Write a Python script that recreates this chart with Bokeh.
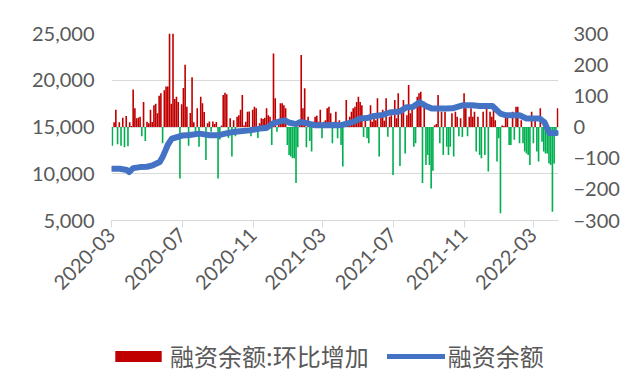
import numpy as np
import pandas as pd
from math import pi
from bokeh.plotting import figure
from bokeh.layouts import column
from bokeh.models import (ColumnDataSource, Range1d, LinearAxis, FixedTicker,
                          NumeralTickFormatter, Legend, LegendItem)
from bokeh.embed import file_html
from bokeh.resources import INLINE

# ---------------- data ----------------
bar_start = "2020-03-02"          # bars: one value per 3 calendar days
chg = [
    -60, 15, 55, -55, 15, -60, 30, -65, 35, -62, 15, 3, 120, 60, 28, 30, 33, -30, 80, -45,
    17, 12, 55, 16, 70, 75, 44, 100, 108, -52, 118, 130, 130, 310, 75, 310, 90, 97, 80, -165,
    73, 125, 200, 65, -60, 45, 160, 15, -30, 60, -63, 97, 76, 48, -106, 12, 18, -15, 18, 10,
    16, -165, -40, 5, 103, 110, 105, -35, 28, -95, 22, -30, 33, 38, 55, 103, 5, 17, 49, 50,
    -30, 55, 65, 60, -35, 12, 28, 26, 30, 60, 38, 33, -58, 236, 92, -15, 20, 76, 76, 70,
    60, -58, -90, -95, -100, -100, -180, -65, 17, 231, 60, 124, -65, 33, -45, -79, 17, 33, 36, 17,
    55, -36, 17, 22, 60, 65, 44, -52, 17, 49, -36, 22, -58, -127, 17, 87, 17, 33, 49, 60,
    65, 80, 97, 80, 70, -32, 33, -36, -52, 70, 17, 44, 22, 92, -95, 38, 55, 20, 92, -31,
    33, 38, -154, 87, 28, 108, -125, 55, 87, -85, 38, 135, 44, 65, -63, -52, 97, 108, 113, -180,
    81, -122, -90, -122, -197, -140, 6, 10, 103, -52, 49, -90, 49, -63, -90, -63, 44, -95, 49, 33,
    -30, 28, -32, 108, 60, -30, 33, 60, 33, 49, -79, 33, -90, -100, 49, -90, 60, -143, 49, 33,
    60, 22, -111, -36, -277, 5, 3, 33, 33, -58, -58, 49, -41, 65, 65, -52, 22, -52, -79, -85,
    -90, -122, 49, -52, 22, -79, -111, 60, -47, -79, -85, -85, -117, -122, -272, -117, -15, 60, 38,
]

line_dates = [
    "2020-03-02", "2020-03-15", "2020-03-27", "2020-03-31", "2020-04-07", "2020-04-19",
    "2020-05-01", "2020-05-11", "2020-05-23", "2020-05-28", "2020-06-02", "2020-06-06",
    "2020-06-13", "2020-06-23", "2020-07-02", "2020-07-14", "2020-07-31", "2020-08-18",
    "2020-09-01", "2020-09-13", "2020-09-27", "2020-10-09", "2020-10-26", "2020-11-12",
    "2020-11-24", "2020-12-05", "2020-12-17", "2020-12-26", "2021-01-03", "2021-01-14",
    "2021-01-21", "2021-02-02", "2021-02-16", "2021-03-05", "2021-03-22", "2021-03-31",
    "2021-04-12", "2021-04-23", "2021-05-05", "2021-05-17", "2021-05-27", "2021-06-13",
    "2021-06-25", "2021-07-12", "2021-07-24", "2021-08-04", "2021-08-16", "2021-08-28",
    "2021-09-07", "2021-10-01", "2021-10-12", "2021-10-29", "2021-11-15", "2021-11-28",
    "2021-12-20", "2022-01-03", "2022-01-13", "2022-02-05", "2022-02-17", "2022-03-12",
    "2022-03-20", "2022-03-26", "2022-03-29", "2022-04-10",
]
line_vals = [
    10540, 10540, 10400, 10180, 10600, 10710,
    10750, 10900, 11250, 11800, 12500, 13100,
    13750, 13930, 14100, 14150, 14290, 14110,
    14110, 14290, 14460, 14550, 14640, 14830,
    14900, 15390, 15600, 15710, 15450, 15300,
    15530, 15400, 15180, 15180, 15210, 15180,
    15360, 15550, 15900, 15950, 16150, 16300,
    16550, 16650, 17100, 17150, 17650, 17200,
    16970, 16970, 17000, 17320, 17320, 17250,
    17250, 16430, 16250, 16250, 15900, 15900,
    15530, 14700, 14350, 14350,
]

x_tick_dates = ["2020-03-01", "2020-07-01", "2020-11-01", "2021-03-01",
                "2021-07-01", "2021-11-01", "2022-03-01"]
x_tick_labels = ["2020-03", "2020-07", "2020-11", "2021-03",
                 "2021-07", "2021-11", "2022-03"]
left_ticks = [5000, 10000, 15000, 20000, 25000]
right_ticks = [-300, -200, -100, 0, 100, 200, 300]

bar_label = "融资余额:环比增加"
line_label = "融资余额"

# ---------------- build ----------------
bar_dates = pd.date_range(bar_start, periods=len(chg), freq="3D")
chg_arr = np.array(chg, dtype=float)
pos = chg_arr >= 0
src_pos = ColumnDataSource(dict(x=bar_dates[pos], top=chg_arr[pos]))
src_neg = ColumnDataSource(dict(x=bar_dates[~pos], top=chg_arr[~pos]))
src_line = ColumnDataSource(dict(x=pd.to_datetime(line_dates), y=line_vals))

x0 = pd.Timestamp("2020-02-29 12:00")
x1 = pd.Timestamp("2022-04-13 12:00")

TICK_FONT = "Lato"
TXT = "#595959"
GRID = "#D9D9D9"
RED = "#C00000"
GREEN = "#00B050"
BLUE = "#4472C4"

p = figure(width=627, height=312, x_axis_type="datetime",
           x_range=Range1d(x0, x1), y_range=Range1d(5000, 25000),
           output_backend="svg", toolbar_location=None,
           min_border_left=111, min_border_right=69,
           min_border_top=33, min_border_bottom=92)
p.outline_line_color = None
p.background_fill_color = "white"
p.border_fill_color = "white"

p.extra_y_ranges = {"r": Range1d(-300, 300)}

day_ms = 86400000
w = 2.8 * day_ms
rb = p.vbar(x="x", top="top", bottom=0, width=w, source=src_pos, y_range_name="r",
            fill_color=RED, line_color=None)
gb = p.vbar(x="x", top="top", bottom=0, width=w, source=src_neg, y_range_name="r",
            fill_color=GREEN, line_color=None)
ln = p.line("x", "y", source=src_line, line_color=BLUE, line_width=6,
            line_join="round", line_cap="round")

# grid
p.xgrid.visible = False
p.ygrid.ticker = FixedTicker(ticks=left_ticks)
p.ygrid.grid_line_color = GRID
p.ygrid.grid_line_width = 1

# x axis
tick_ms = [pd.Timestamp(d).value / 1e6 for d in x_tick_dates]
xa = p.xaxis[0]
xa.ticker = FixedTicker(ticks=tick_ms)
xa.major_label_overrides = {t: lab for t, lab in zip(tick_ms, x_tick_labels)}
xa.major_label_orientation = pi / 4
xa.axis_line_color = GRID
xa.major_tick_line_color = GRID
xa.major_tick_out = 7
xa.major_tick_in = 0
xa.minor_tick_line_color = None
xa.major_label_standoff = 4
xa.major_label_text_font = TICK_FONT
xa.major_label_text_font_size = "20px"
xa.major_label_text_color = TXT

# left axis
ya = p.yaxis[0]
ya.ticker = FixedTicker(ticks=left_ticks)
ya.formatter = NumeralTickFormatter(format="0,0")
ya.axis_line_color = None
ya.major_tick_line_color = None
ya.minor_tick_line_color = None
ya.major_label_standoff = 11
ya.major_label_text_font = TICK_FONT
ya.major_label_text_font_size = "20px"
ya.major_label_text_color = TXT

# right axis
ra = LinearAxis(y_range_name="r", ticker=FixedTicker(ticks=right_ticks))
ra.axis_line_color = None
ra.major_tick_line_color = None
ra.minor_tick_line_color = None
ra.major_label_standoff = 9
ra.major_label_text_font = TICK_FONT
ra.major_label_text_font_size = "20px"
ra.major_label_text_color = TXT
p.add_layout(ra, "right")

# ---------------- legend strip (separate figure so it is not clipped) ----------------
lf = figure(width=627, height=64, x_range=Range1d(0, 1), y_range=Range1d(0, 1),
            output_backend="svg", toolbar_location=None,
            x_axis_location=None, y_axis_location=None,
            min_border_left=0, min_border_right=0, min_border_top=0, min_border_bottom=0)
lf.outline_line_color = None
lf.xgrid.visible = False
lf.ygrid.visible = False
# proxy glyphs placed outside the visible range: they only feed the legend swatches
lr = lf.vbar(x=[-5], top=[-5], bottom=[-6], width=0.1, fill_color=RED, line_color=None)
ll = lf.line(x=[-5, -4], y=[-5, -5], line_color=BLUE, line_width=5, line_cap="round")

legend = Legend(items=[LegendItem(label=bar_label, renderers=[lr]),
                       LegendItem(label=line_label, renderers=[ll])],
                location=(-2, 3), orientation="horizontal",
                glyph_width=58, glyph_height=14, label_standoff=3, spacing=18,
                padding=0, margin=0, border_line_color=None,
                background_fill_alpha=0,
                label_text_font="Noto Sans CJK SC", label_text_font_size="24px",
                label_text_color=TXT)
lf.add_layout(legend, "center")

open("out.html", "w").write(file_html(column(p, lf, spacing=0), INLINE))
